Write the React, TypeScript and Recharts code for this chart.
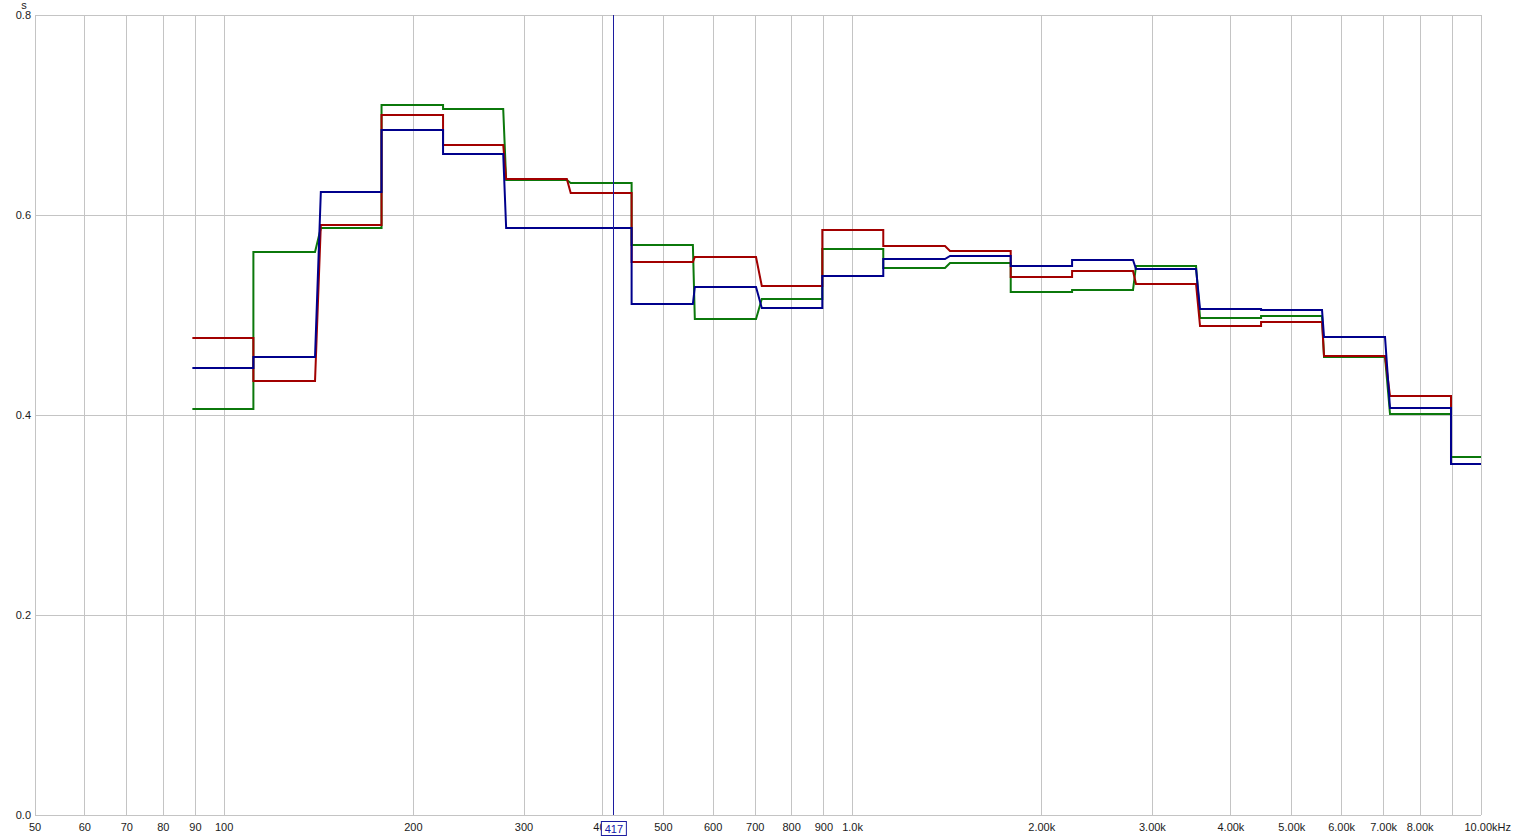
import { LineChart, Line, XAxis, YAxis, CartesianGrid, ReferenceLine } from "recharts";

// 1/3-octave band edges (Hz) as drawn: start and end of each flat step
const bandStart = [89, 111.3, 142.5, 178, 223, 281, 356, 445, 561, 717, 895, 1119, 1429, 1785, 2235, 2825, 3572, 4467, 5626, 7165, 8959];
const bandEnd = [111.3, 139.5, 178, 223, 278, 351, 445, 557, 702, 895, 1119, 1403, 1785, 2235, 2794, 3520, 4467, 5585, 7035, 8959, 10000];

// decay times (s) per band
const red = [0.477, 0.434, 0.59, 0.7, 0.67, 0.636, 0.622, 0.553, 0.558, 0.529, 0.585, 0.569, 0.564, 0.538, 0.544, 0.531, 0.489, 0.493, 0.459, 0.419, 0.351];
const green = [0.406, 0.563, 0.587, 0.71, 0.706, 0.635, 0.632, 0.57, 0.496, 0.516, 0.566, 0.547, 0.552, 0.523, 0.525, 0.549, 0.497, 0.499, 0.458, 0.401, 0.358];
const blue = [0.447, 0.458, 0.623, 0.685, 0.661, 0.587, 0.587, 0.511, 0.528, 0.507, 0.539, 0.556, 0.559, 0.549, 0.555, 0.546, 0.506, 0.505, 0.478, 0.407, 0.351];

const xTicks = [50, 60, 70, 80, 90, 100, 200, 300, 400, 500, 600, 700, 800, 900, 1000, 2000, 3000, 4000, 5000, 6000, 7000, 8000, 9000, 10000];
const xTickLabels = ["50", "60", "70", "80", "90", "100", "200", "300", "400", "500", "600", "700", "800", "900", "1.0k", "2.00k", "3.00k", "4.00k", "5.00k", "6.00k", "7.00k", "8.00k", "", "10.00k"];
const xUnit = "Hz";
const yTicks = [0, 0.2, 0.4, 0.6, 0.8];
const yUnit = "s";
const cursorFreq = 417;

const data: { f: number; red: number; green: number; blue: number }[] = [];
bandStart.forEach((s, i) => {
  data.push({ f: s, red: red[i], green: green[i], blue: blue[i] });
  data.push({ f: bandEnd[i], red: red[i], green: green[i], blue: blue[i] });
});

const FONT = "'Liberation Sans', Arial, sans-serif";
const GRID = "#c4c4c4";
const TEXT = "#1a1a1a";
const CURSOR = "#1c1ca0";

function XTick(props: any) {
  const { x, y, payload } = props;
  const idx = xTicks.indexOf(payload.value);
  const label = xTickLabels[idx] ?? "";
  const last = idx === xTicks.length - 1;
  return (
    <g>
      <text x={x} y={y + 16} textAnchor="middle" fontSize={11} fontFamily={FONT} fill={TEXT}>
        {label}
      </text>
      {last && (
        <text x={x + 16.5} y={y + 16} textAnchor="start" fontSize={11} fontFamily={FONT} fill={TEXT}>
          {xUnit}
        </text>
      )}
    </g>
  );
}

function YTick(props: any) {
  const { x, y, payload } = props;
  const top = payload.value === yTicks[yTicks.length - 1];
  return (
    <g>
      <text x={x - 4} y={y + 4} textAnchor="end" fontSize={11} fontFamily={FONT} fill={TEXT}>
        {payload.value.toFixed(1)}
      </text>
      {top && (
        <text x={x - 11} y={y - 6} textAnchor="middle" fontSize={11} fontFamily={FONT} fill={TEXT}>
          {yUnit}
        </text>
      )}
    </g>
  );
}

function CursorLabel(props: any) {
  const vb = props.viewBox || {};
  const cx = vb.x ?? 0;
  const bottom = (vb.y ?? 0) + (vb.height ?? 0);
  return (
    <g>
      <rect x={cx - 12.5} y={bottom + 6.5} width={25} height={14} fill="#fff" stroke={CURSOR} strokeWidth={1} />
      <text x={cx} y={bottom + 18} textAnchor="middle" fontSize={11} fontFamily={FONT} fill="#1414a8">
        {cursorFreq}
      </text>
    </g>
  );
}

export default function App() {
  return (
    <div style={{ width: 1515, height: 837, background: "#fff" }}>
      <style>{`html,body{margin:0;padding:0;overflow:hidden;background:#fff}`}</style>
      <LineChart width={1515} height={837} data={data} margin={{ top: 15, right: 34, bottom: 0, left: 0 }}>
        <CartesianGrid stroke={GRID} strokeWidth={1} shapeRendering="crispEdges" />
        <XAxis
          dataKey="f"
          type="number"
          scale="log"
          domain={[50, 10000]}
          ticks={xTicks}
          allowDataOverflow
          height={22}
          tickSize={0}
          tickMargin={0}
          tickLine={false}
          axisLine={{ stroke: GRID, shapeRendering: "crispEdges" }}
          tick={<XTick />}
          interval={0}
        />
        <YAxis
          type="number"
          domain={[0, 0.8]}
          ticks={yTicks}
          width={35}
          tickSize={0}
          tickMargin={0}
          tickLine={false}
          axisLine={{ stroke: GRID, shapeRendering: "crispEdges" }}
          tick={<YTick />}
          interval={0}
        />
        <Line type="linear" dataKey="green" stroke="#0b780b" strokeWidth={2} dot={false} activeDot={false} isAnimationActive={false} />
        <Line type="linear" dataKey="red" stroke="#a20000" strokeWidth={2} dot={false} activeDot={false} isAnimationActive={false} />
        <Line type="linear" dataKey="blue" stroke="#00008c" strokeWidth={2} dot={false} activeDot={false} isAnimationActive={false} />
        <ReferenceLine
          x={cursorFreq}
          stroke={CURSOR}
          strokeWidth={1}
          shapeRendering="crispEdges"
          label={<CursorLabel />}
          {...({ zIndex: 2100 } as any)}
        />
      </LineChart>
    </div>
  );
}
